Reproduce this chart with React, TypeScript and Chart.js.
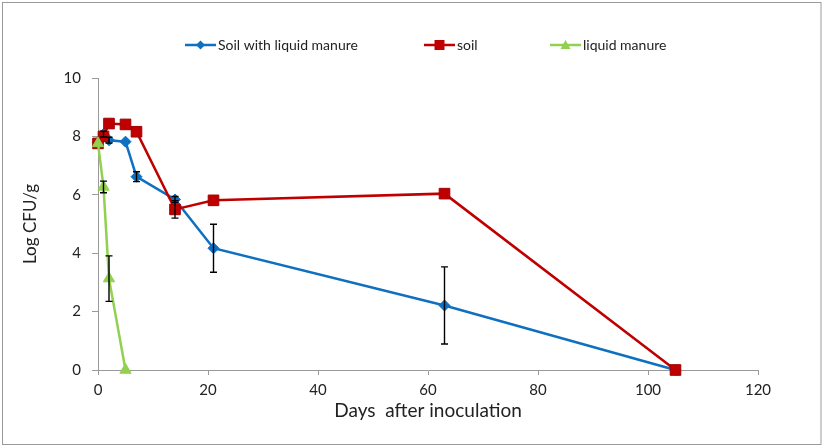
import React, { useEffect, useRef } from "react";
import { Chart, registerables } from "chart.js";

Chart.register(...registerables);

const days = [0, 1, 2, 5, 7, 14, 21, 63, 105];
const soilManure = [7.8, 8.08, 7.87, 7.82, 6.62, 5.84, 4.17, 2.21, 0];
const soilManureErr = [0, 0.1, 0.1, 0, 0.17, 0.1, 0.82, 1.32, 0];
const soil = [7.76, 8.0, 8.44, 8.41, 8.16, 5.5, 5.81, 6.04, 0];
const soilErr = [0, 0, 0, 0, 0, 0.3, 0, 0, 0];
const manureDays = [0, 1, 2, 5];
const manure = [7.76, 6.27, 3.13, 0];
const manureErr = [0, 0.2, 0.78, 0];

const yTicks = [0, 2, 4, 6, 8, 10];
const xTicks = [0, 20, 40, 60, 80, 100, 120];

const seriesNames = ["Soil with liquid manure", "soil", "liquid manure"];
const xTitle = "Days  after inoculation";
const yTitle = "Log CFU/g";

const BLUE = "#0F6FC0";
const RED = "#C00000";
const GREEN = "#92D050";
const FONT = "Lato, 'Open Sans', sans-serif";

function pts(xs: number[], ys: number[]) {
  return xs.map((x, i) => ({ x, y: ys[i] }));
}

const frameAndLegend = {
  id: "frameAndLegend",
  beforeDraw(chart: any) {
    const ctx = chart.ctx;
    ctx.save();
    ctx.fillStyle = "#ffffff";
    ctx.fillRect(0, 0, chart.width, chart.height);
    ctx.strokeStyle = "#9a9a9a";
    ctx.lineWidth = 1;
    ctx.strokeRect(2.5, 2.5, 818.5, 442);
    ctx.restore();
  },
  afterDraw(chart: any) {
    const ctx = chart.ctx;
    const items = [
      { x: 185, color: BLUE, style: "diamond" },
      { x: 424, color: RED, style: "square" },
      { x: 550, color: GREEN, style: "triangle" },
    ];
    const y = 45;
    ctx.save();
    items.forEach((it, i) => {
      ctx.strokeStyle = it.color;
      ctx.lineWidth = 2.5;
      ctx.beginPath();
      ctx.moveTo(it.x, y);
      ctx.lineTo(it.x + 31, y);
      ctx.stroke();
      const cx = it.x + 15.5;
      ctx.fillStyle = it.color;
      ctx.beginPath();
      if (it.style === "diamond") {
        ctx.moveTo(cx, y - 4.5);
        ctx.lineTo(cx + 4.5, y);
        ctx.lineTo(cx, y + 4.5);
        ctx.lineTo(cx - 4.5, y);
        ctx.closePath();
        ctx.fill();
      } else if (it.style === "square") {
        ctx.rect(cx - 5, y - 5, 10, 10);
        ctx.fill();
      } else {
        ctx.moveTo(cx, y - 5);
        ctx.lineTo(cx + 5, y + 4);
        ctx.lineTo(cx - 5, y + 4);
        ctx.closePath();
        ctx.fill();
      }
      ctx.fillStyle = "#222";
      ctx.font = `14px ${FONT}`;
      ctx.textBaseline = "middle";
      ctx.textAlign = "left";
      ctx.fillText(seriesNames[i], it.x + 33, y);
    });
    ctx.restore();
  },
};

const errorBars = {
  id: "errorBars",
  afterDatasetsDraw(chart: any) {
    const ctx = chart.ctx;
    const xs = chart.scales.x;
    const ys = chart.scales.y;
    const sets = [
      { x: days, y: soilManure, e: soilManureErr },
      { x: days, y: soil, e: soilErr },
      { x: manureDays, y: manure, e: manureErr },
    ];
    ctx.save();
    ctx.strokeStyle = "#000";
    ctx.lineWidth = 1.4;
    sets.forEach((s) => {
      s.x.forEach((xv, i) => {
        const err = s.e[i];
        if (!err) return;
        const px = xs.getPixelForValue(xv);
        const top = ys.getPixelForValue(s.y[i] + err);
        const bot = ys.getPixelForValue(s.y[i] - err);
        ctx.beginPath();
        ctx.moveTo(px, top);
        ctx.lineTo(px, bot);
        ctx.moveTo(px - 3.5, top);
        ctx.lineTo(px + 3.5, top);
        ctx.moveTo(px - 3.5, bot);
        ctx.lineTo(px + 3.5, bot);
        ctx.stroke();
      });
    });
    ctx.restore();
  },
};

export default function App() {
  const ref = useRef<HTMLCanvasElement | null>(null);
  useEffect(() => {
    document.body.style.margin = "0";
    if (!ref.current) return;
    const chart = new Chart(ref.current, {
      type: "scatter",
      data: {
        datasets: [
          {
            label: seriesNames[0],
            data: pts(days, soilManure),
            showLine: true,
            clip: false,
            borderColor: BLUE,
            backgroundColor: BLUE,
            borderWidth: 2.5,
            pointStyle: "rectRot",
            pointRadius: 5.5,
            pointBorderWidth: 1,
            pointBorderColor: BLUE,
            order: 3,
          },
          {
            label: seriesNames[1],
            data: pts(days, soil),
            showLine: true,
            clip: false,
            borderColor: RED,
            backgroundColor: RED,
            borderWidth: 2.5,
            pointStyle: "rect",
            pointRadius: 7.5,
            pointBorderWidth: 1,
            pointBorderColor: "#A00000",
            order: 2,
          },
          {
            label: seriesNames[2],
            data: pts(manureDays, manure),
            showLine: true,
            clip: false,
            borderColor: GREEN,
            backgroundColor: GREEN,
            borderWidth: 2.5,
            pointStyle: "triangle",
            pointRadius: 6.5,
            pointBorderWidth: 1,
            pointBorderColor: GREEN,
            order: 1,
          },
        ],
      },
      options: {
        animation: false,
        responsive: false,
        maintainAspectRatio: false,
        layout: { padding: { top: 78, right: 68, left: 0, bottom: 0 } },
        plugins: {
          legend: { display: false },
          tooltip: { enabled: false },
        },
        scales: {
          x: {
            type: "linear",
            min: 0,
            max: 120,
            afterBuildTicks: (s: any) => {
              s.ticks = xTicks.map((v) => ({ value: v }));
            },
            afterFit: (s: any) => {
              s.height = 78;
            },
            ticks: {
              color: "#222",
              font: { family: FONT, size: 15 },
              padding: 6,
              maxRotation: 0,
            },
            grid: {
              display: true,
              drawOnChartArea: false,
              drawTicks: true,
              tickLength: 5,
              color: "#9a9a9a",
            },
            border: { display: true, color: "#9a9a9a", width: 1 },
            title: {
              display: true,
              text: xTitle,
              color: "#222",
              font: { family: FONT, size: 19 },
              padding: { top: 0, bottom: 26 },
            },
          },
          y: {
            type: "linear",
            min: 0,
            max: 10,
            afterBuildTicks: (s: any) => {
              s.ticks = yTicks.map((v) => ({ value: v }));
            },
            afterFit: (s: any) => {
              s.width = 98;
            },
            ticks: {
              color: "#222",
              font: { family: FONT, size: 15 },
              padding: 11,
            },
            grid: {
              display: true,
              drawOnChartArea: false,
              drawTicks: true,
              tickLength: 6,
              color: "#9a9a9a",
            },
            border: { display: true, color: "#9a9a9a", width: 1 },
            title: {
              display: true,
              text: yTitle,
              color: "#222",
              font: { family: FONT, size: 17 },
              padding: { top: 20, bottom: 0 },
            },
          },
        },
      },
      plugins: [frameAndLegend, errorBars],
    } as any);
    return () => chart.destroy();
  }, []);
  return (
    <div style={{ position: "absolute", left: 0, top: 0, width: 826, height: 448 }}>
      <canvas ref={ref} width={826} height={448} style={{ width: 826, height: 448 }} />
    </div>
  );
}
